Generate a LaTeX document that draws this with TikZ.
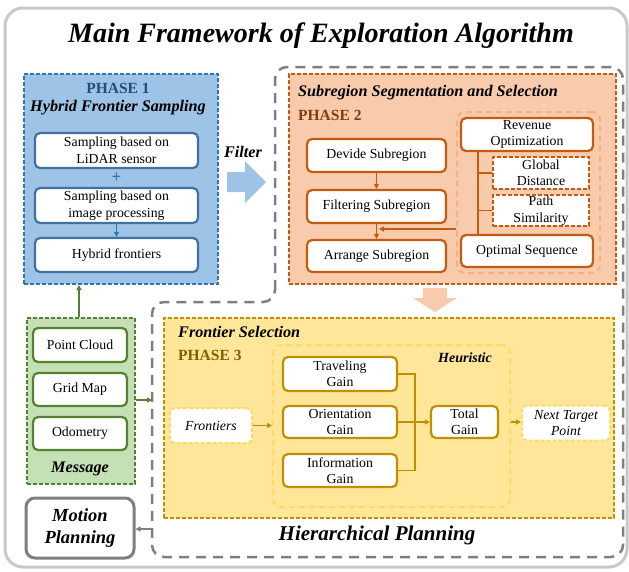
\documentclass[tikz,border=0pt]{standalone}
\usepackage{fontspec}
\setmainfont{Liberation Serif}
\usetikzlibrary{arrows.meta}
\definecolor{bfill}{HTML}{9DC3E6}
\definecolor{bline}{HTML}{2E75B6}
\definecolor{bbox}{HTML}{41719C}
\definecolor{btxt}{HTML}{1F4E79}
\definecolor{ofill}{HTML}{F8CBAD}
\definecolor{oline}{HTML}{C55A11}
\definecolor{olight}{HTML}{F4B183}
\definecolor{otxt}{HTML}{843C0C}
\definecolor{gfill}{HTML}{C5E0B4}
\definecolor{gline}{HTML}{548235}
\definecolor{yfill}{HTML}{FFE699}
\definecolor{yline}{HTML}{BF9000}
\definecolor{ylight}{HTML}{FFD966}
\definecolor{ytxt}{HTML}{7F6000}
\definecolor{gry}{HTML}{7F7F7F}
\definecolor{outerc}{HTML}{C8C8C8}
\tikzset{
  txt/.style={font=\fontsize{13.8}{16.5}\selectfont, align=center},
  panel/.style={line width=2pt, dash pattern=on 4pt off 2pt, anchor=north west, inner sep=0pt},
  wbox/.style={txt, draw, fill=white, line width=2.2pt, rounded corners=5pt, inner sep=0pt},
  dbox/.style={txt, draw, fill=white, line width=2pt, dash pattern=on 4pt off 2pt, inner sep=0pt},
  lbox/.style={draw, line width=2pt, dash pattern=on 6pt off 4pt, rounded corners=8pt, inner sep=0pt},
  tip/.style={-{Triangle[length=5pt,width=5pt]}},
  hdr/.style={font=\fontsize{16.2}{18}\selectfont\bfseries\itshape, anchor=west, inner sep=0pt},
  phase/.style={font=\fontsize{15.5}{18}\selectfont\bfseries, inner sep=0pt},
}
\begin{document}
\begin{tikzpicture}[x=1pt,y=-1pt]
\useasboundingbox (0,0) rectangle (629,571);
% outer frame
\draw[outerc, line width=3pt, rounded corners=18pt] (5,8) rectangle (627,567);
\node[font=\fontsize{28}{32}\selectfont\bfseries\itshape] (title) at (321,36) {Main Framework of Exploration Algorithm};

% hierarchical planning region
\draw[gry, line width=2.5pt, dash pattern=on 10pt off 7pt, rounded corners=12pt]
  (275,302) -- (275,67) -- (623,67) -- (623,557) -- (152,557) -- (152,302) -- cycle;
\node[font=\fontsize{21}{24}\selectfont\bfseries\itshape] (hp) at (377,535) {Hierarchical Planning};

% PHASE 1
\node[panel, draw=bline, fill=bfill, minimum width=194pt, minimum height=210pt] (p1) at (23,73) {};
\node[phase, text=btxt] (p1t) at (118,88) {PHASE 1};
\node[hdr, anchor=center] (p1h) at (118,108) {Hybrid Frontier Sampling};
\node[wbox, draw=bbox, minimum width=163pt, minimum height=35pt] (b1) at (116.5,150.5) {Sampling based on\\LiDAR sensor};
\node[font=\fontsize{17}{17}\selectfont\bfseries, text=bline, inner sep=0pt] (plus) at (116.5,178) {+};
\node[wbox, draw=bbox, minimum width=163pt, minimum height=35pt] (b2) at (116.5,205.5) {Sampling based on\\image processing};
\node[wbox, draw=bbox, minimum width=163pt, minimum height=34pt] (b3) at (116.5,255) {Hybrid frontiers};
\draw[bline, line width=1.5pt, tip] (b2.south) -- (b3.north);

% Filter arrow
\node[hdr, anchor=center] (filt) at (243,152) {Filter};
\fill[bfill] (227,172) -- (245,172) -- (245,161) -- (266,182) -- (245,203) -- (245,192) -- (227,192) -- cycle;

% PHASE 2
\node[panel, draw=oline, fill=ofill, minimum width=327pt, minimum height=210pt] (p2) at (288,73) {};
\node[hdr] (p2h) at (298,93) {Subregion Segmentation and Selection};
\node[phase, text=otxt, anchor=west] (p2t) at (298,115) {PHASE 2};
\node[wbox, draw=oline, minimum width=139pt, minimum height=33pt] (d1) at (376.5,155.5) {Devide Subregion};
\node[wbox, draw=oline, minimum width=139pt, minimum height=33pt] (d2) at (376.5,206.5) {Filtering Subregion};
\node[wbox, draw=oline, minimum width=139pt, minimum height=32pt] (d3) at (376.5,256) {Arrange Subregion};
\node[lbox, draw=olight, minimum width=143pt, minimum height=161pt] (sel) at (528.5,192.5) {};
\node[wbox, draw=oline, minimum width=132pt, minimum height=33pt] (rev) at (527,134.5) {Revenue\\Optimization};
\node[dbox, draw=oline, minimum width=96pt, minimum height=32pt] (glob) at (541,173) {Global\\Distance};
\node[dbox, draw=oline, minimum width=96pt, minimum height=31pt] (path) at (541,210.5) {Path\\Similarity};
\node[wbox, draw=oline, minimum width=132pt, minimum height=32pt] (opt) at (527,251) {Optimal Sequence};
\draw[oline, line width=1.8pt] (rev.south -| 478,0) -- (opt.north -| 478,0);
\draw[oline, line width=1.8pt] (478,173) -- (glob.west);
\draw[oline, line width=1.8pt] (478,210.5) -- (path.west);
\draw[oline, line width=1.5pt, tip] (d1.south) -- (d2.north);
\draw[oline, line width=1.5pt, tip] (d2.south) -- (d3.north);
\draw[oline, line width=1.5pt, tip] (sel.west |- 0,229) -- (379,229);

% down arrow
\fill[ofill] (423,288) -- (447,288) -- (447,298) -- (457,298) -- (435,312) -- (413,298) -- (423,298) -- cycle;

% Message
\node[panel, draw=gline, fill=gfill, minimum width=108pt, minimum height=166pt] (msg) at (26,317) {};
\node[wbox, draw=gline, minimum width=94pt, minimum height=34pt] (pc) at (80,345) {Point Cloud};
\node[wbox, draw=gline, minimum width=94pt, minimum height=33pt] (gm) at (80,389.5) {Grid Map};
\node[wbox, draw=gline, minimum width=94pt, minimum height=33pt] (od) at (80,433.5) {Odometry};
\node[hdr, anchor=center] (msgt) at (80,469) {Message};
\draw[gline, line width=1.8pt, tip] (msg.north -| 79,0) -- (p1.south -| 79,0);
\coordinate (hl) at (152,400);
\draw[gline, line width=1.8pt, tip] (msg.east |- hl) -- (hl);

% Motion planning
\node[draw=gry, fill=white, line width=3pt, rounded corners=9pt, minimum width=108pt, minimum height=60pt,
  font=\fontsize{18.5}{22}\selectfont\bfseries\itshape, align=center, inner sep=0pt] (mp) at (80,528) {Motion\\Planning};
\coordinate (hm) at (152,529);
\draw[gry, line width=1.8pt, tip] (hm) -- (mp.east |- hm);

% PHASE 3
\node[panel, draw=yline, fill=yfill, minimum width=450pt, minimum height=200pt] (p3) at (163,317) {};
\node[hdr] (p3h) at (178,332) {Frontier Selection};
\node[phase, text=ytxt, anchor=west] (p3t) at (178,355) {PHASE 3};
\node[lbox, draw=ylight, minimum width=237pt, minimum height=162pt] (heur) at (391.5,426) {};
\node[font=\fontsize{14}{16}\selectfont\bfseries\itshape, inner sep=0pt] (heurt) at (465,358) {Heuristic};
\node[wbox, draw=yline, minimum width=114pt, minimum height=34pt] (tg) at (340,374) {Traveling\\Gain};
\node[wbox, draw=yline, minimum width=114pt, minimum height=32pt] (og) at (340,422) {Orientation\\Gain};
\node[wbox, draw=yline, minimum width=114pt, minimum height=33pt] (ig) at (340,470.5) {Information\\Gain};
\node[wbox, draw=yline, minimum width=67pt, minimum height=32pt] (tot) at (464.5,422) {Total\\Gain};
\node[dbox, draw=ylight, rounded corners=5pt, minimum width=82pt, minimum height=35pt, font=\fontsize{13.8}{16.5}\selectfont\itshape] (fr) at (211,425.5) {Frontiers};
\node[dbox, draw=ylight, rounded corners=5pt, minimum width=88pt, minimum height=35pt, font=\fontsize{13.8}{16.5}\selectfont\itshape] (nt) at (566,423) {Next Target\\Point};
\draw[yline, line width=1.8pt] (tg.east) -- (415,374) -- (415,470.5) -- (ig.east);
\draw[yline, line width=1.8pt, tip] (og.east) -- (tot.west);
\draw[yline, line width=1.8pt, tip] (fr.east) -- (heur.west |- fr.east);
\draw[yline, line width=1.8pt, tip] (heur.east |- tot.east) -- (nt.west |- tot.east);
\end{tikzpicture}
\end{document}
